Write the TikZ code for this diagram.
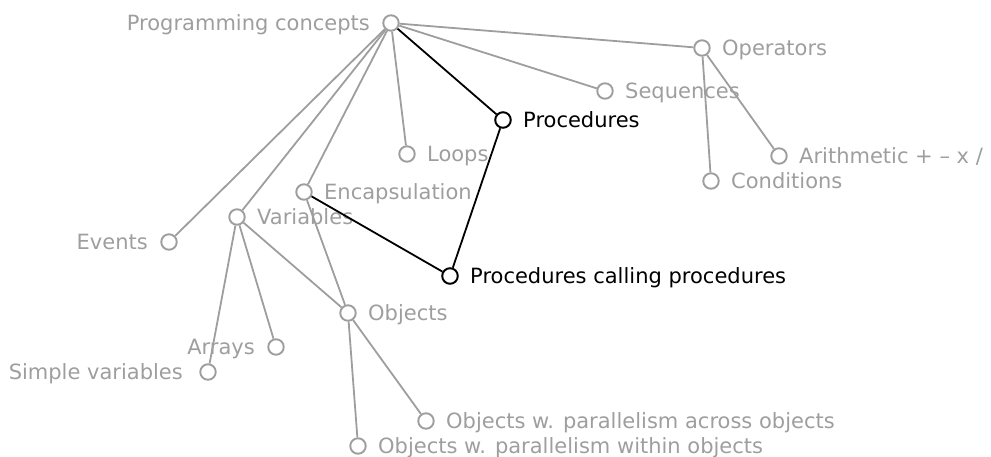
\documentclass[tikz,border=0pt]{standalone}
\usepackage{fontspec}
\setmainfont{DejaVu Sans}
\definecolor{gris}{gray}{0.62}
\tikzset{
  noeud/.style={circle,draw=gris,line width=1.9pt,fill=white,minimum size=15.5pt,inner sep=0pt},
  etiqD/.style={anchor=base west,inner sep=0pt,xshift=20pt,yshift=-7.6pt,text=gris},
  etiqG/.style={anchor=base east,inner sep=0pt,xshift=-21pt,yshift=-7.6pt,text=gris},
  lien/.style={draw=gris,line width=1.8pt},
}
\begin{document}
\begin{tikzpicture}[x=1pt,y=-1pt,font=\fontsize{21}{25}\selectfont]
    \useasboundingbox (0,0) rectangle (991,457);

    % Noeuds (cercles)
    \foreach \n/\x/\y in {pc/391/23, ops/702/48, seq/605/91, proc/503/120,
        loops/407/154, arith/779/156, cond/711/181, encap/304/192,
        vars/237/217, events/169/242, pcp/450/276, objs/348/313,
        arrays/276/347, simple/208/372, across/426/421, within/358/446} {
        \node[noeud] (\n) at (\x,\y) {};
    }
    \node[noeud,draw=black] at (proc) {};
    \node[noeud,draw=black] at (pcp) {};

    % Etiquettes
    \node[etiqG] at (pc) {Programming concepts};
    \node[etiqD] at (ops) {Operators};
    \node[etiqD] at (seq) {Sequences};
    \node[etiqD,text=black] at (proc) {Procedures};
    \node[etiqD] at (loops) {Loops};
    \node[etiqD] at (arith) {Arithmetic + – x /};
    \node[etiqD] at (cond) {Conditions};
    \node[etiqD] at (encap) {Encapsulation};
    \node[etiqD] at (vars) {Variables};
    \node[etiqG] at (events) {Events};
    \node[etiqD,text=black] at (pcp) {Procedures calling procedures};
    \node[etiqD] at (objs) {Objects};
    \node[etiqG] at (arrays) {Arrays};
    \node[etiqG,xshift=-4pt] at (simple) {Simple variables};
    \node[etiqD] at (across) {Objects w. parallelism across objects};
    \node[etiqD] at (within) {Objects w. parallelism within objects};

    % Liens
    \foreach \a/\b in {pc/ops, pc/seq, pc/loops, pc/encap, pc/vars, pc/events,
        ops/cond, ops/arith, encap/objs, vars/objs, vars/arrays, vars/simple,
        objs/across, objs/within} {
        \draw[lien] (\a) -- (\b);
    }
    % Liens actifs
    \foreach \a/\b in {pc/proc, proc/pcp, encap/pcp} {
        \draw[lien,draw=black] (\a) -- (\b);
    }
\end{tikzpicture}
\end{document}
